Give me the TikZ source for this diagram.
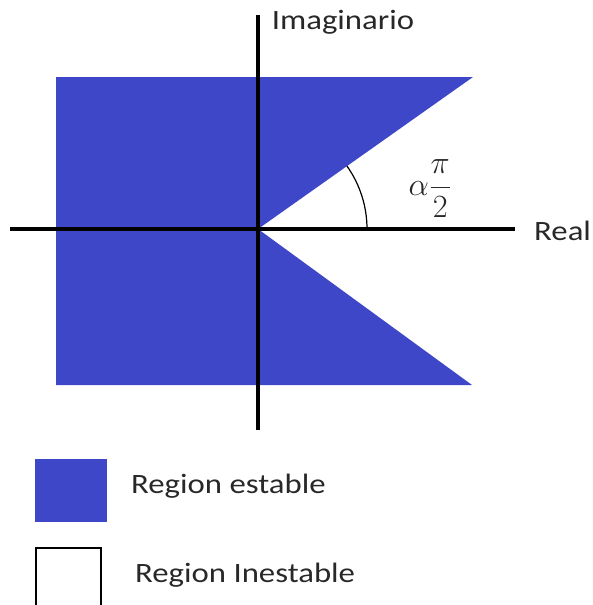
\documentclass[tikz,border=0pt]{standalone}
\usepackage{amsmath,amssymb}
\usepackage{fontspec}
\setmainfont{Carlito}[FakeStretch=1.17]
\usepackage{xcolor}
\usepackage{tikz}
\usetikzlibrary{positioning,calc}

\definecolor{stableblue}{RGB}{63,71,201}
\definecolor{labelgray}{RGB}{40,40,40}

\begin{document}
\begin{tikzpicture}[
      x=1pt, y=1pt,
      font=\fontsize{28}{32}\selectfont,
      axis/.style={draw=black, line width=4pt},
      legendbox/.style={minimum width=72pt, minimum height=63pt, inner sep=0pt},
      lbl/.style={text=labelgray, inner sep=0pt}]

    \useasboundingbox (0,0) rectangle (592,-605);

    % stable region
    \fill[stableblue] (56,-77) -- (473,-77) -- (258,-229) -- (472,-385)
      -- (56,-385) -- cycle;

    % axes
    \coordinate (o) at (258,-229);
    \coordinate (xl) at (10,-229);
    \coordinate (xr) at (515,-229);
    \coordinate (yt) at (258,-15);
    \coordinate (yb) at (258,-430);
    \draw[axis] (xl) -- (xr);
    \draw[axis] (yt) -- (yb);

    \node[lbl] (imag) at (343,-22) {Imaginario};
    \node[lbl, anchor=west] (real) at (534,-231) {Real};

    % angle
    \draw[line width=1.2pt] ($(o)+(109,0)$) arc[start angle=0, end angle=35.3, radius=109];
    \node[lbl] (ang) at (430,-189)
      {\scalebox{1.3}{$\displaystyle\alpha\frac{\pi}{2}$}};

    % legend
    \node[legendbox, fill=stableblue] (stable) at (71,-490) {};
    \node[lbl, anchor=west] (stabletxt) at (131,-486) {Region estable};
    \node[legendbox, draw=black, line width=1.5pt, minimum width=65pt,
          minimum height=70pt] (unstable) at (68.5,-583) {};
    \node[lbl, anchor=west] (unstabletxt) at (135,-575) {Region Inestable};
  \end{tikzpicture}
\end{document}
